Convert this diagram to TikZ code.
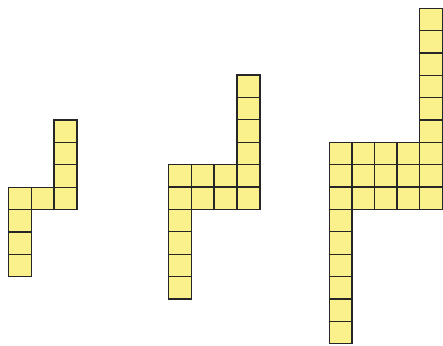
\documentclass[tikz,border=0pt]{standalone}
\definecolor{cellyellow}{HTML}{FAF08C}
\definecolor{celledge}{HTML}{262626}
\tikzset{
  unitcell/.style={fill=cellyellow,draw=celledge,line width=1.3pt,line join=miter}
}
% \placecell{x0}{y0}{cw}{ch}{col}{row}
\newcommand{\placecell}[6]{%
  \path[unitcell] ({#1+#5*#3},{#2+#6*#4}) rectangle ++(#3,#4);}
\begin{document}
\begin{tikzpicture}[x=1pt,y=-1pt]
\useasboundingbox (0,0) rectangle (443,345);
% figure 1
\foreach \c/\r in {2/0,2/1,2/2,2/3,1/3,0/3,0/4,0/5,0/6}
  {\placecell{8.3}{120}{22.9}{22.4}{\c}{\r}}
% figure 2
\foreach \c/\r in {3/0,3/1,3/2,3/3,0/4,1/4,2/4,3/4,0/5,1/5,2/5,3/5,0/6,0/7,0/8,0/9}
  {\placecell{168.3}{75}{22.9}{22.4}{\c}{\r}}
% figure 3
\foreach \r in {0,...,5} {\placecell{329.3}{8.3}{22.6}{22.35}{4}{\r}}
\foreach \c in {0,...,4} {\foreach \r in {6,7,8} {\placecell{329.3}{8.3}{22.6}{22.35}{\c}{\r}}}
\foreach \r in {9,...,14} {\placecell{329.3}{8.3}{22.6}{22.35}{0}{\r}}
\end{tikzpicture}
\end{document}
